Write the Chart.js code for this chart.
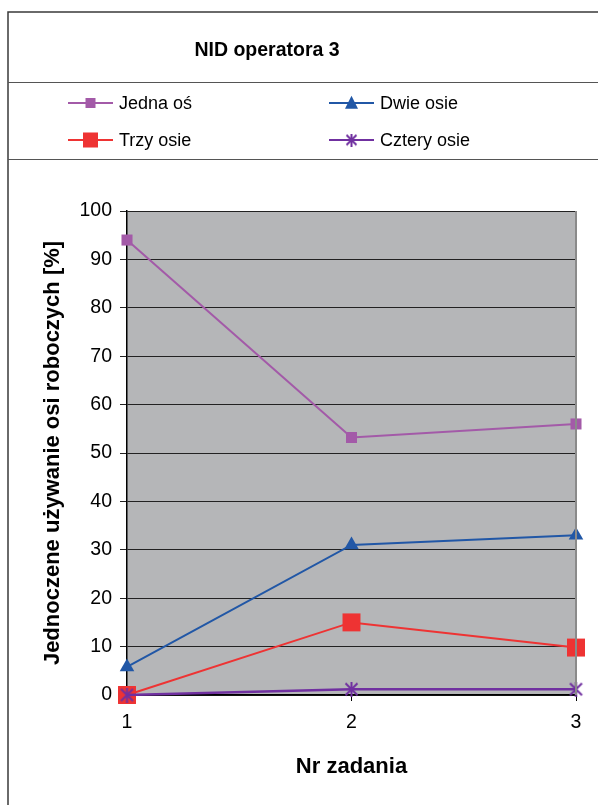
<!DOCTYPE html>
<html>
<head>
<meta charset="utf-8">
<script src="https://cdn.jsdelivr.net/npm/chart.js@4/dist/chart.umd.min.js"></script>
<style>
  html, body { margin: 0; padding: 0; background: #fff; }
  canvas { display: block; }
</style>
</head>
<body>
<canvas id="chart-nid" width="598" height="805"></canvas>
<script>
// data
const categories = ['1', '2', '3'];
const seriesNames = ['Jedna oś', 'Dwie osie', 'Trzy osie', 'Cztery osie'];
const jednaOs = [94.0, 53.2, 56.0];
const dwieOsie = [5.8, 31.0, 33.0];
const trzyOsie = [0, 15.0, 9.8];
const czteryOsie = [0, 1.2, 1.2];
const yTicks = [0, 10, 20, 30, 40, 50, 60, 70, 80, 90, 100];

const chartTitle = 'NID operatora 3';
const xTitle = 'Nr zadania';
const yTitle = 'Jednoczene używanie osi roboczych [%]';

const FONT = "'Liberation Sans', Arial, sans-serif";

// asterisk marker (X with a vertical bar)
function makeStar(color, size) {
    let c = document.createElement('canvas');
    c.width = size; c.height = size;
    let g = c.getContext('2d');
    g.strokeStyle = color;
    g.lineWidth = 2;
    g.beginPath();
    g.moveTo(1.5, 1.5); g.lineTo(size - 1.5, size - 1.5);
    g.moveTo(size - 1.5, 1.5); g.lineTo(1.5, size - 1.5);
    g.moveTo(size / 2, 0); g.lineTo(size / 2, size);
    g.stroke();
    return c;
}
const star = makeStar('#7030a0', 15);
const starSmall = makeStar('#7030a0', 13);

// frame, title, gray plot area and the two-column legend
const framePlugin = {
    id: 'frame',
    beforeDraw(chart) {
        const {ctx, chartArea: a} = chart;
        ctx.save();
        ctx.fillStyle = '#b5b6b8';
        ctx.fillRect(a.left, a.top, a.right - a.left, a.bottom - a.top);
        ctx.restore();
    },
    afterDatasetsDraw(chart) {
        const {ctx, chartArea: a} = chart;
        ctx.save();
        // right border of the plot
        ctx.strokeStyle = '#8a8a8a';
        ctx.lineWidth = 2;
        ctx.beginPath();
        ctx.moveTo(a.right, a.top);
        ctx.lineTo(a.right, a.bottom);
        ctx.stroke();
        ctx.restore();
    },
    afterDraw(chart) {
        const {ctx} = chart;
        ctx.save();
        ctx.strokeStyle = '#3a3a3a';
        ctx.lineWidth = 1.5;
        ctx.beginPath();
        ctx.moveTo(8, 805); ctx.lineTo(8, 12); ctx.lineTo(598, 12);
        ctx.stroke();
        ctx.strokeStyle = '#555';
        ctx.lineWidth = 1.2;
        ctx.beginPath();
        ctx.moveTo(8, 82.5); ctx.lineTo(598, 82.5);
        ctx.moveTo(8, 159.5); ctx.lineTo(598, 159.5);
        ctx.stroke();

        ctx.fillStyle = '#000';
        ctx.font = 'bold 19.5px ' + FONT;
        ctx.textAlign = 'center';
        ctx.textBaseline = 'middle';
        ctx.fillText(chartTitle, 267, 51);

        ctx.font = '18px ' + FONT;
        ctx.textAlign = 'left';
        chart.data.datasets.forEach((ds, i) => {
            let x0 = i % 2 == 0 ? 68 : 329;
            let y = i < 2 ? 103 : 140;
            ctx.strokeStyle = ds.borderColor;
            ctx.lineWidth = 2;
            ctx.beginPath();
            ctx.moveTo(x0, y); ctx.lineTo(x0 + 45, y);
            ctx.stroke();
            let cx = x0 + 22.5;
            ctx.fillStyle = ds.backgroundColor;
            let s = ds.legendSize;
            if (ds.pointStyle == 'rect') {
                ctx.fillRect(cx - s / 2, y - s / 2, s, s);
            } else if (ds.pointStyle == 'triangle') {
                ctx.beginPath();
                ctx.moveTo(cx, y - s * 0.55);
                ctx.lineTo(cx + s / 2, y + s * 0.45);
                ctx.lineTo(cx - s / 2, y + s * 0.45);
                ctx.closePath();
                ctx.fill();
            } else {
                ctx.drawImage(starSmall, cx - 6.5, y - 6.5);
            }
            ctx.fillStyle = '#000';
            ctx.fillText(ds.label, x0 + 51, y + 1);
        });
        ctx.restore();
    }
};

const datasets = [
    {label: seriesNames[0], data: jednaOs, borderColor: '#a35aa8', backgroundColor: '#a35aa8',
     borderWidth: 2, pointStyle: 'rect', pointRadius: 7.8, legendSize: 10, order: 1},
    {label: seriesNames[1], data: dwieOsie, borderColor: '#2157a6', backgroundColor: '#2157a6',
     borderWidth: 2, pointStyle: 'triangle', pointRadius: 8.4, legendSize: 13, order: 1},
    {label: seriesNames[2], data: trzyOsie, borderColor: '#ee3333', backgroundColor: '#ee3333',
     borderWidth: 2, pointStyle: 'rect', pointRadius: 12.7, legendSize: 15, order: 2},
    {label: seriesNames[3], data: czteryOsie, borderColor: '#7030a0', backgroundColor: '#7030a0',
     borderWidth: 2.5, pointStyle: star, pointRadius: 7.5, legendSize: 13, order: 0}
];

const chart = new Chart(document.getElementById('chart-nid'), {
    type: 'line',
    data: {labels: categories, datasets: datasets},
    options: {
        responsive: false,
        animation: false,
        devicePixelRatio: 1,
        layout: {padding: {left: 8, top: 211, right: 22, bottom: 0}},
        datasets: {line: {clip: false, tension: 0, pointBorderWidth: 0, pointHoverRadius: 8}},
        plugins: {legend: {display: false}, title: {display: false}, tooltip: {enabled: false}},
        scales: {
            x: {
                offset: false,
                afterFit(scale) { scale.height = 110; },
                grid: {drawOnChartArea: false, drawTicks: true, tickLength: 6, color: '#000'},
                border: {display: true, color: '#000', width: 1.5},
                ticks: {color: '#000', font: {family: FONT, size: 19.5}, padding: 10, maxRotation: 0},
                title: {display: true, text: xTitle, color: '#000',
                        font: {family: FONT, size: 22, weight: 'bold'}, padding: {top: 0, bottom: 25}}
            },
            y: {
                min: 0,
                max: 100,
                afterFit(scale) { scale.width = 119; },
                afterBuildTicks(scale) { scale.ticks = yTicks.map(v => ({value: v})); },
                grid: {color: '#222', lineWidth: 1, tickLength: 7},
                border: {display: true, color: '#000', width: 1.5},
                ticks: {color: '#000', font: {family: FONT, size: 19.5}, padding: 8},
                title: {display: true, text: yTitle, color: '#000',
                        font: {family: FONT, size: 22, weight: 'bold'}, padding: {top: 32, bottom: 0}}
            }
        }
    },
    plugins: [framePlugin]
});
</script>
</body>
</html>
